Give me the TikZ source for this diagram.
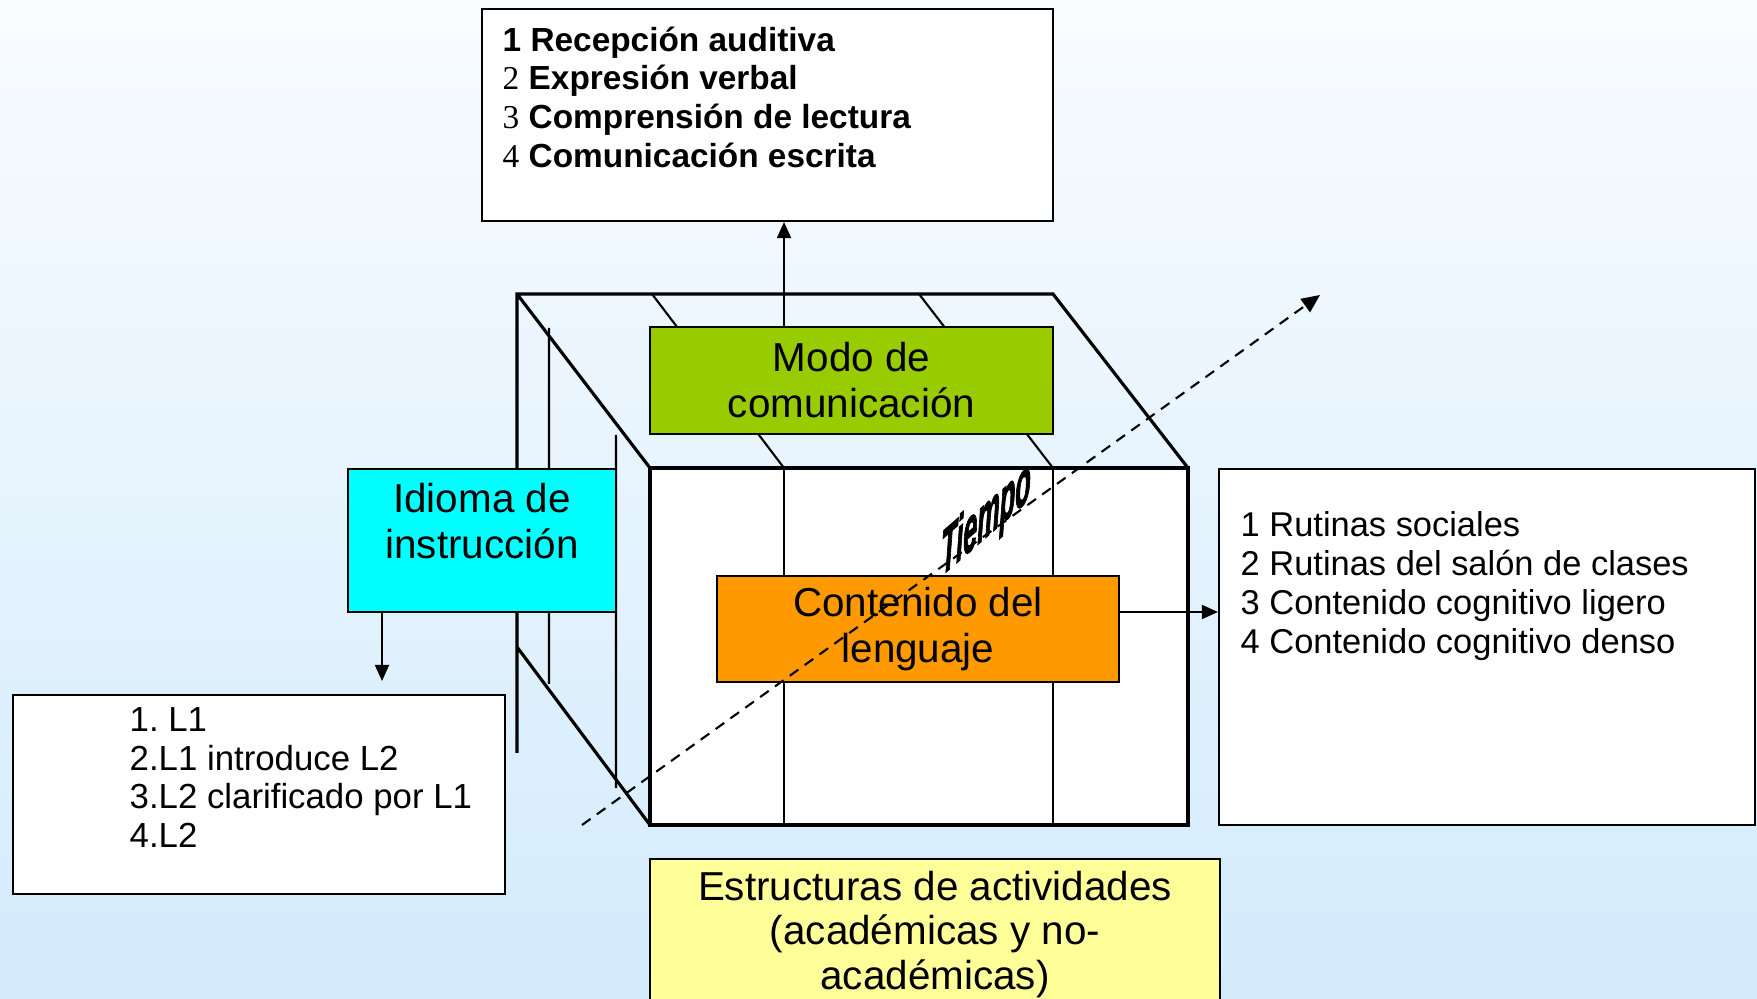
\documentclass[tikz,border=0pt]{standalone}
\usepackage{fontspec}
\setmainfont{Liberation Sans}
\newfontfamily\numfont{Liberation Serif}
\newfontfamily\tiempofont[FakeBold=2.5]{Liberation Sans}
\usetikzlibrary{arrows.meta}
\definecolor{bgtop}{RGB}{249,252,255}
\definecolor{bgbottom}{RGB}{211,235,252}
\definecolor{modogreen}{RGB}{153,204,0}
\definecolor{idiomacyan}{RGB}{0,255,255}
\definecolor{contorange}{RGB}{255,153,0}
\definecolor{actyellow}{RGB}{255,255,153}
\tikzset{
  box/.style={draw,line width=0.6pt,inner sep=0pt},
  bigtext/.style={font=\fontsize{11.5}{13.1}\selectfont,align=center},
  listtext/.style={align=left,inner sep=0pt,anchor=north west},
  tip/.style={line width=0.6pt,-{Triangle[length=4.6pt,width=4pt]}},
  timeline/.style={line width=0.6pt,dash pattern=on 3pt off 2.2pt,-{Triangle[length=5.2pt,width=4.6pt]}}
}
\frenchspacing
\begin{document}
\begin{tikzpicture}[x=0.1mm,y=-0.1mm]
  \useasboundingbox (0,0) rectangle (1757,999);
  \clip (0,0) rectangle (1757,999);
  \shade[top color=bgtop,bottom color=bgbottom] (0,0) rectangle (1757,999);
  % back of the cube
  \draw[line width=0.9pt] (517,753)--(517,294)--(1053,294)--(1188,468)
       (517,294)--(650,468) (517,647)--(650,825);
  \draw[line width=0.6pt] (652,294)--(784,468) (919,294)--(1053,468)
       (549,328)--(549,684) (616,435)--(616,788);
  % front face
  \draw[fill=white,line width=1.4pt] (650,468) rectangle (1188,825);
  \draw[line width=0.6pt] (784,468)--(784,825) (1053,468)--(1053,825);

  \node[box,fill=white,minimum width=57.1mm,minimum height=21.2mm] (recep) at (767.5,115) {};
  \node[listtext,font=\bfseries\fontsize{9.5}{11}\selectfont] (receplist) at (502,26)
    {1 Recepción auditiva\\{\numfont\mdseries 2} Expresión verbal\\
     {\numfont\mdseries 3} Comprensión de lectura\\{\numfont\mdseries 4} Comunicación escrita};
  \node[box,fill=modogreen,bigtext,minimum width=40.3mm,minimum height=10.7mm] (modo) at (851.5,380.5)
    {Modo de\\comunicación};
  \node[box,fill=idiomacyan,minimum width=26.8mm,minimum height=14.3mm] (idioma) at (482,540.5) {};
  \node[bigtext,inner sep=0pt] (idiomatxt) at (482,521) {Idioma de\\instrucción};
  \node[box,fill=white,minimum width=49.2mm,minimum height=19.9mm] (lenguas) at (259,794.5) {};
  \node[listtext,font=\fontsize{9.9}{11}\selectfont] (lenguaslist) at (129,707)
    {1. L1\\2.L1 introduce L2\\3.L2 clarificado por L1\\4.L2};
  \node[box,fill=contorange,bigtext,minimum width=40.2mm,minimum height=10.6mm] (contenido) at (918,629)
    {Contenido del\\lenguaje};
  \node[box,fill=white,minimum width=53.6mm,minimum height=35.6mm] (rutinas) at (1487,647) {};
  \node[listtext,font=\fontsize{9.8}{11.1}\selectfont] (rutinaslist) at (1240,511)
    {1 Rutinas sociales\\2 Rutinas del salón de clases\\3 Contenido cognitivo ligero\\4 Contenido cognitivo denso};
  \node[box,fill=actyellow,font=\fontsize{11.5}{12.7}\selectfont,align=center,
        minimum width=57mm,minimum height=15.1mm] (actividades) at (935,934.5)
    {Estructuras de actividades\\(académicas y no-\\académicas)};

  % connectors
  \coordinate (modoarr) at (784,0);
  \draw[tip] (modo.north -| modoarr) -- (recep.south -| modoarr);
  \coordinate (idiomaarr) at (382,681);
  \draw[tip] (idioma.south -| idiomaarr) -- (idiomaarr);
  \coordinate (contarr) at (0,612);
  \draw[tip] (contenido.east |- contarr) -- (rutinas.west |- contarr);
  \coordinate (tiempo0) at (582,825);
  \coordinate (tiempo1) at (1320,295);
  \draw[timeline] (tiempo0) -- (tiempo1);
  \node[font=\tiempofont\fontsize{18}{18}\selectfont\bfseries\itshape,yslant=0.87,xscale=0.4] (tiempo) at (986,521) {Tiempo};
\end{tikzpicture}
\end{document}
